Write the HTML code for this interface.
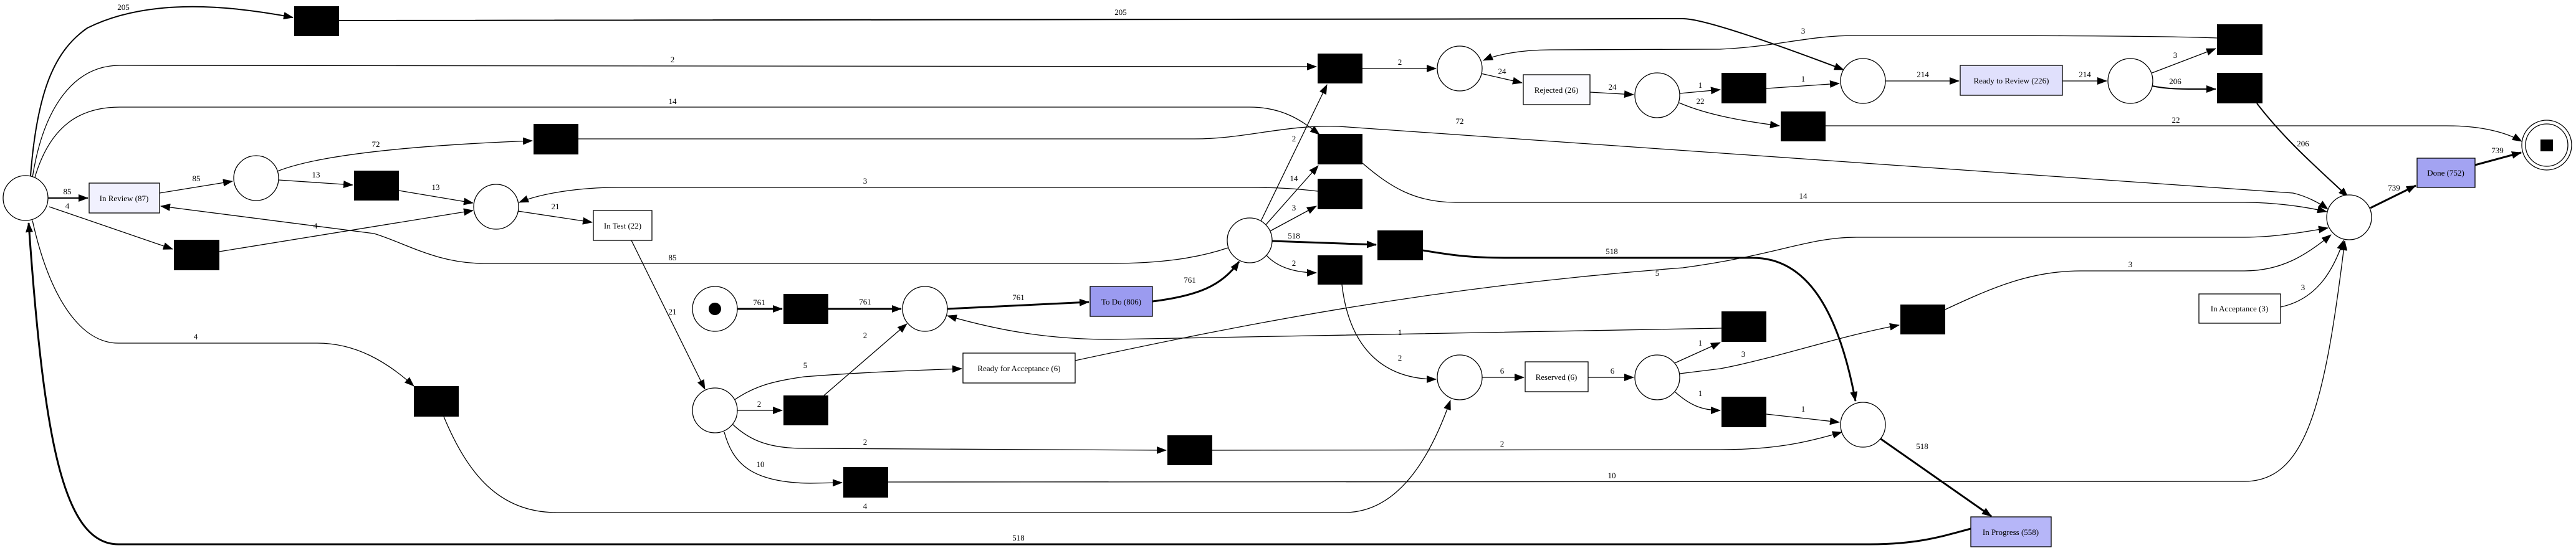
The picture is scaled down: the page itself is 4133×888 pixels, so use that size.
<!DOCTYPE html>
<html><head><meta charset="utf-8"><style>
html,body{margin:0;padding:0;background:#fff;}
svg{display:block;}
text{font-family:"Liberation Serif",serif;font-size:13px;fill:#000;}
.l{text-anchor:middle;}
.e{fill:none;stroke:#000;stroke-width:1.3;}
.t{fill:none;stroke:#000;stroke-width:3;}
.m{fill:none;stroke:#000;stroke-width:2;}
.p{fill:#fff;stroke:#000;stroke-width:1.3;}
.tr{fill:#000;}
.b{stroke:#000;stroke-width:1.3;}
</style></head><body>
<svg width="4133" height="888" viewBox="0 0 4133 888" xmlns="http://www.w3.org/2000/svg">
<defs>
<marker id="a" markerUnits="userSpaceOnUse" markerWidth="16" markerHeight="12" refX="15" refY="6" orient="auto"><path d="M0,0 L16,6 L0,12 z" fill="#000"/></marker>
</defs>
<g marker-end="url(#a)">
<path class="m" d="M49,282 C60,140 90,80 140,45 C230,0 350,5 470,28"/>
<path class="m" d="M544,33 L2700,30 C2740,30 2900,90 2958,112"/>
<path class="e" d="M52,285 C70,170 120,105 192,105 L2112,107"/>
<path class="e" d="M55,288 C80,200 130,172 192,172 L2005,172 C2060,172 2090,195 2117,216"/>
<path class="m" d="M77,318 L141,318"/>
<path class="e" d="M79,332 L277,400"/>
<path class="e" d="M52,354 C80,480 130,551 190,551 L509,551 C570,551 620,580 664,620"/>
<path class="e" d="M445,275 C520,245 700,232 854,226"/>
<path class="e" d="M447,289 L566,297"/>
<path class="e" d="M256,310 L373,291"/>
<path class="e" d="M640,306 L759,326"/>
<path class="e" d="M352,404 L759,338"/>
<path class="e" d="M831,339 L950,357"/>
<path class="e" d="M1013,386 L1131,625"/>
<path class="e" d="M1970,398 C1920,415 1860,423 1782,423 L777,423 C700,423 650,390 600,375 L258,331"/>
<path class="e" d="M2114,307 C2080,303 2050,301 2005,301 L991,301 C930,301 870,310 833,325"/>
<path class="e" d="M928,223 L1916,223 C2000,223 2060,200 2148,203 L3679,310 C3700,315 3720,325 3735,336"/>
<path class="t" d="M1183,496 L1255,496"/>
<path class="t" d="M1329,496 L1446,496"/>
<path class="e" d="M1322,635 L1455,520"/>
<path class="e" d="M1183,659 L1255,659"/>
<path class="e" d="M1177,643 C1210,620 1240,612 1290,605 C1380,598 1460,595 1543,592"/>
<path class="e" d="M1174,680 C1200,705 1230,720 1290,720 L1871,723"/>
<path class="e" d="M1162,694 C1175,740 1200,775 1300,776 L1351,775"/>
<path class="e" d="M712,669 C750,760 800,823 893,823 L2157,823 C2250,823 2300,720 2327,643"/>
<path class="t" d="M3162,849 C3120,860 3080,874 3000,874 L190,874 C100,874 70,700 46,358"/>
<path class="t" d="M1520,496 L1747,485"/>
<path class="t" d="M1849,484 C1920,475 1960,460 1988,420"/>
<path class="e" d="M2023,355 L2129,136"/>
<path class="e" d="M2030,362 L2115,266"/>
<path class="e" d="M2036,372 L2112,331"/>
<path class="t" d="M2041,387 L2208,393"/>
<path class="e" d="M2032,410 C2050,430 2080,438 2112,438"/>
<path class="e" d="M2186,110 L2304,110"/>
<path class="e" d="M2376,118 L2442,133"/>
<path class="e" d="M2551,148 L2621,152"/>
<path class="e" d="M2695,150 L2760,144"/>
<path class="e" d="M2694,165 C2740,185 2800,195 2855,202"/>
<path class="e" d="M2186,262 C2230,300 2270,325 2335,325 L3601,325 C3650,325 3700,332 3733,340"/>
<path class="t" d="M2283,402 C2330,410 2360,414 2420,414 L2812,414 C2900,414 2950,500 2977,644"/>
<path class="e" d="M2153,457 C2165,560 2220,609 2304,609"/>
<path class="e" d="M1725,579 C2000,520 2300,460 2700,430 C2850,410 2900,381 2979,381 L3601,381 C3650,381 3700,372 3735,366"/>
<path class="e" d="M2762,527 L1782,545 C1680,545 1600,530 1520,507"/>
<path class="e" d="M2378,606 L2445,606"/>
<path class="e" d="M2548,606 L2621,606"/>
<path class="e" d="M2687,583 L2760,550"/>
<path class="e" d="M2695,600 L2760,592 C2850,575 2950,540 3047,522"/>
<path class="e" d="M2686,628 C2710,650 2730,659 2760,659"/>
<path class="e" d="M1945,723 L2760,722 C2850,722 2900,710 2955,694"/>
<path class="e" d="M1425,774 L3601,773 C3700,773 3730,650 3762,387"/>
<path class="e" d="M2834,665 L2951,678"/>
<path class="t" d="M3015,703 L3195,829"/>
<path class="e" d="M3025,130 L3143,130"/>
<path class="e" d="M2834,142 L2951,134"/>
<path class="e" d="M3309,130 L3380,130"/>
<path class="e" d="M3453,117 L3555,78"/>
<path class="m" d="M3453,138 C3480,144 3510,143 3555,143"/>
<path class="e" d="M3557,61 C3450,57 3200,57 2979,57 C2900,57 2850,75 2760,79 L2487,80 C2440,80 2400,88 2380,97"/>
<path class="m" d="M3621,166 C3670,230 3730,280 3767,316"/>
<path class="e" d="M2929,202 L3925,202 C3980,202 4020,212 4046,227"/>
<path class="t" d="M3803,334 L3876,298"/>
<path class="t" d="M3971,265 L4045,245"/>
<path class="e" d="M3121,497 C3200,460 3260,435 3338,435 L3601,435 C3660,435 3700,410 3740,377"/>
<path class="e" d="M3659,493 C3720,480 3745,430 3760,386"/>
</g>
<!-- places -->
<ellipse class="p" cx="41" cy="318" rx="36" ry="36"/>
<ellipse class="p" cx="411" cy="286" rx="36" ry="36"/>
<ellipse class="p" cx="796" cy="332" rx="36" ry="36"/>
<ellipse class="p" cx="1147" cy="496" rx="36" ry="36"/>
<ellipse cx="1147" cy="496" rx="10" ry="10" fill="#000"/>
<ellipse class="p" cx="1147" cy="659" rx="36" ry="36"/>
<ellipse class="p" cx="1484" cy="496" rx="36" ry="36"/>
<ellipse class="p" cx="2005" cy="386" rx="36" ry="36"/>
<ellipse class="p" cx="2342" cy="110" rx="36" ry="36"/>
<ellipse class="p" cx="2659" cy="153" rx="36" ry="36"/>
<ellipse class="p" cx="2342" cy="606" rx="36" ry="36"/>
<ellipse class="p" cx="2659" cy="606" rx="36" ry="36"/>
<ellipse class="p" cx="2989" cy="130" rx="36" ry="36"/>
<ellipse class="p" cx="3418" cy="130" rx="36" ry="36"/>
<ellipse class="p" cx="3769" cy="349" rx="36" ry="36"/>
<ellipse class="p" cx="2989" cy="682" rx="36" ry="36"/>
<circle class="p" cx="4086" cy="233" r="40"/>
<circle class="p" cx="4086" cy="233" r="34"/>
<rect x="4076" y="224" width="20" height="19" fill="#000"/>
<!-- transitions -->
<rect class="tr" x="472" y="10" width="72" height="48"/>
<rect class="tr" x="856" y="199" width="72" height="49"/>
<rect class="tr" x="568" y="274" width="72" height="48"/>
<rect class="tr" x="279" y="385" width="73" height="49"/>
<rect class="tr" x="1257" y="472" width="72" height="48"/>
<rect class="tr" x="664" y="620" width="72" height="49"/>
<rect class="tr" x="1257" y="635" width="72" height="48"/>
<rect class="tr" x="1353" y="750" width="72" height="49"/>
<rect class="tr" x="2114" y="86" width="72" height="48"/>
<rect class="tr" x="2114" y="215" width="72" height="49"/>
<rect class="tr" x="2114" y="287" width="72" height="49"/>
<rect class="tr" x="2210" y="370" width="73" height="48"/>
<rect class="tr" x="2114" y="410" width="72" height="47"/>
<rect class="tr" x="1873" y="699" width="72" height="48"/>
<rect class="tr" x="2762" y="500" width="72" height="49"/>
<rect class="tr" x="2762" y="637" width="72" height="49"/>
<rect class="tr" x="2762" y="117" width="72" height="49"/>
<rect class="tr" x="2857" y="179" width="72" height="48"/>
<rect class="tr" x="3557" y="39" width="73" height="49"/>
<rect class="tr" x="3557" y="117" width="73" height="49"/>
<rect class="tr" x="3049" y="489" width="72" height="48"/>
<!-- boxes -->
<rect class="b" x="143" y="294" width="113" height="48" fill="#f1f1fe"/>
<rect class="b" x="952" y="338" width="94" height="48" fill="#fff"/>
<rect class="b" x="1749" y="460" width="100" height="48" fill="#9b9bf0"/>
<rect class="b" x="1545" y="567" width="180" height="48" fill="#fff"/>
<rect class="b" x="2444" y="120" width="107" height="48" fill="#fbfbff"/>
<rect class="b" x="2447" y="581" width="101" height="48" fill="#fff"/>
<rect class="b" x="3145" y="105" width="164" height="48" fill="#e0e0fc"/>
<rect class="b" x="3878" y="254" width="93" height="47" fill="#a3a3f2"/>
<rect class="b" x="3528" y="472" width="131" height="47" fill="#fff"/>
<rect class="b" x="3162" y="830" width="129" height="48" fill="#b6b6f8"/>
<g class="l">
<text x="199" y="323">In Review (87)</text>
<text x="999" y="367">In Test (22)</text>
<text x="1799" y="489">To Do (806)</text>
<text x="1635" y="596">Ready for Acceptance (6)</text>
<text x="2497" y="149">Rejected (26)</text>
<text x="2497" y="610">Reserved (6)</text>
<text x="3227" y="134">Ready to Review (226)</text>
<text x="3924" y="282">Done (752)</text>
<text x="3593" y="500">In Acceptance (3)</text>
<text x="3226" y="859">In Progress (558)</text>
<!-- edge labels -->
<text x="198" y="16">205</text>
<text x="1798" y="24">205</text>
<text x="1079" y="100">2</text>
<text x="1079" y="167">14</text>
<text x="108" y="312">85</text>
<text x="108" y="335">4</text>
<text x="314" y="545">4</text>
<text x="603" y="236">72</text>
<text x="507" y="285">13</text>
<text x="315" y="291">85</text>
<text x="699" y="305">13</text>
<text x="506" y="367">4</text>
<text x="891" y="336">21</text>
<text x="1079" y="505">21</text>
<text x="1079" y="418">85</text>
<text x="1388" y="295">3</text>
<text x="2342" y="199">72</text>
<text x="1218" y="490">761</text>
<text x="1388" y="489">761</text>
<text x="1388" y="543">2</text>
<text x="1218" y="653">2</text>
<text x="1292" y="591">5</text>
<text x="1388" y="714">2</text>
<text x="1220" y="750">10</text>
<text x="1388" y="817">4</text>
<text x="1634" y="868">518</text>
<text x="1634" y="482">761</text>
<text x="1909" y="454">761</text>
<text x="2076" y="227">2</text>
<text x="2076" y="291">14</text>
<text x="2076" y="338">3</text>
<text x="2076" y="383">518</text>
<text x="2076" y="427">2</text>
<text x="2246" y="104">2</text>
<text x="2410" y="119">24</text>
<text x="2587" y="144">24</text>
<text x="2728" y="141">1</text>
<text x="2728" y="167">22</text>
<text x="2893" y="319">14</text>
<text x="2586" y="408">518</text>
<text x="2246" y="579">2</text>
<text x="2659" y="443">5</text>
<text x="2246" y="538">1</text>
<text x="2410" y="600">6</text>
<text x="2587" y="600">6</text>
<text x="2728" y="555">1</text>
<text x="2797" y="573">3</text>
<text x="2728" y="636">1</text>
<text x="2410" y="717">2</text>
<text x="2586" y="768">10</text>
<text x="2893" y="661">1</text>
<text x="3084" y="721">518</text>
<text x="3085" y="124">214</text>
<text x="2893" y="131">1</text>
<text x="3345" y="124">214</text>
<text x="3490" y="93">3</text>
<text x="3490" y="135">206</text>
<text x="2893" y="54">3</text>
<text x="3695" y="235">206</text>
<text x="3491" y="197">22</text>
<text x="3841" y="306">739</text>
<text x="4007" y="246">739</text>
<text x="3418" y="429">3</text>
<text x="3695" y="466">3</text>
</g>
</svg>
</body></html>
